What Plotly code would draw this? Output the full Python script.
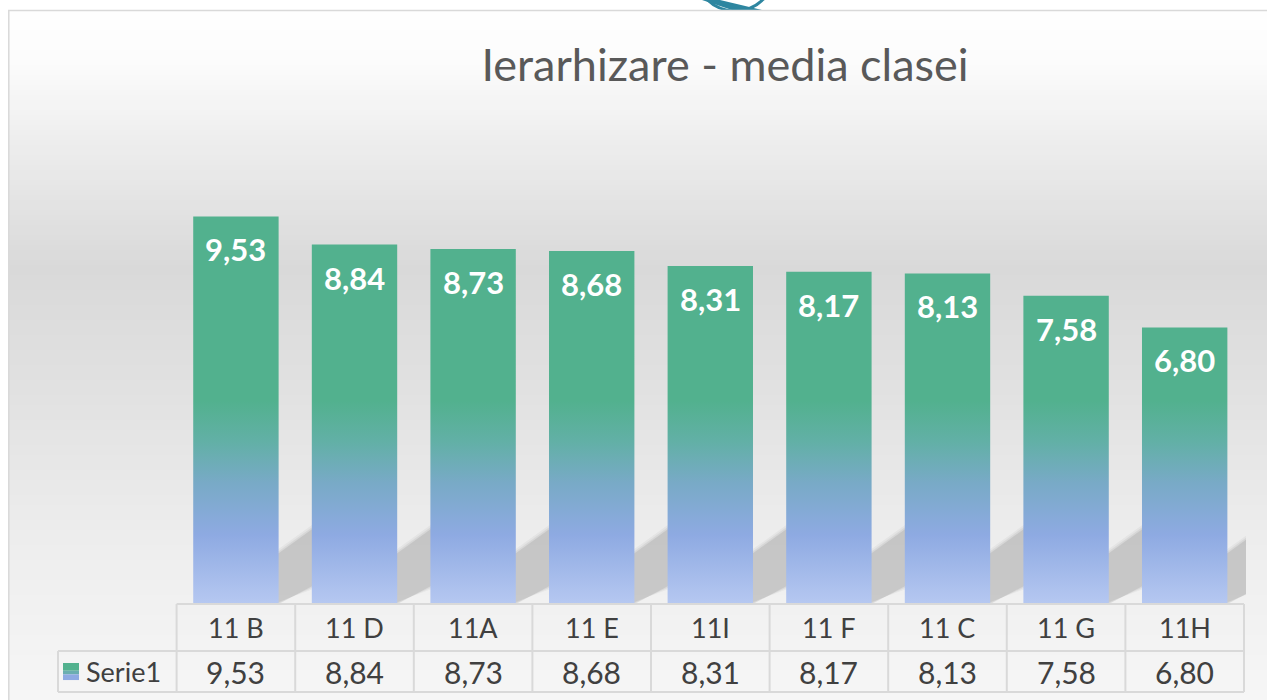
"""Bar chart with an Excel-style data table underneath: Ierarhizare - media clasei."""

import plotly.graph_objects as go

categories = ["11 B", "11 D", "11A", "11 E", "11I", "11 F", "11 C", "11 G", "11H"]
medii = [9.53, 8.84, 8.73, 8.68, 8.31, 8.17, 8.13, 7.58, 6.80]
serie_name = "Serie1"
chart_title = "Ierarhizare - media clasei"

W, H = 1267, 700
ML, MR, MT, MB = 56, 21, 116, 6
PLOT_W = W - ML - MR
PLOT_H = H - MT - MB
X_RANGE = [-1.517, 8.517]
Y_RANGE = [-2.213, 12]
BAR_W = 0.72
HEAD_ROW = -1.156      # line between header row and values row
TABLE_BOTTOM = -2.164  # bottom line of the data table

FONT = "Lato"
TEXT_GRAY = "#404040"
GRID = "#d9d9d9"
BAR_SCALE = [
    [0.0, "#b6c8f1"],
    [0.17, "#8eaae2"],
    [0.30, "#78aac6"],
    [0.40, "#62b0a6"],
    [0.50, "#52b18e"],
    [1.0, "#52b18e"],
]
# background gradient stops: (pixel y, grey level)
BG_STOPS = [(0, 255), (60, 252), (150, 236), (267, 217), (400, 226), (550, 238), (700, 246)]


def fmt(v):
    return f"{v:.2f}".replace(".", ",")


def px_x(px):
    return (px - ML) / PLOT_W


def px_y(py):
    return (H - MB - py) / PLOT_H


def bg_level(py):
    for (y0, g0), (y1, g1) in zip(BG_STOPS, BG_STOPS[1:]):
        if y0 <= py <= y1:
            return g0 + (g1 - g0) * (py - y0) / (y1 - y0)
    return BG_STOPS[-1][1]


fig = go.Figure()

# soft diagonal shadows to the right of each bar (layers for a blurred edge)
for grow, alpha in [(0.10, 0.07), (0.05, 0.10), (0.0, 0.17)]:
    sx, sy = [], []
    for i, v in enumerate(medii):
        r = i + BAR_W / 2
        sx += [i, r - grow / 2, r + 0.32, r + 0.32, r, i, i, None]
        sy += [0, 0, 0.5 - grow, 1.92 + grow, 1.25 + grow, 1.25 + grow, 0, None]
    fig.add_trace(go.Scatter(
        x=sx, y=sy, mode="lines", fill="toself", line=dict(width=0),
        fillcolor=f"rgba(110,110,110,{alpha})", hoverinfo="skip", showlegend=False,
    ))

# the bars, one closed polygon per class, filled with a vertical gradient
bx, by = [], []
for i, v in enumerate(medii):
    x0, x1 = i - BAR_W / 2, i + BAR_W / 2
    bx += [x0, x1, x1, x0, x0, None]
    by += [0, 0, v, v, 0, None]
fig.add_trace(go.Scatter(
    x=bx, y=by, mode="lines", fill="toself", line=dict(width=0),
    fillgradient=dict(type="vertical", start=0, stop=10, colorscale=BAR_SCALE),
    name=serie_name, hoverinfo="skip", showlegend=False,
))
fig.add_trace(go.Scatter(
    x=list(range(len(categories))), y=medii, mode="markers",
    marker=dict(opacity=0, size=30), name=serie_name,
    customdata=categories, hovertemplate="%{customdata}: %{y:.2f}<extra></extra>",
    showlegend=False,
))

annotations = []
# value labels inside the bars
for i, v in enumerate(medii):
    annotations.append(dict(
        x=i, y=v, text=fmt(v), showarrow=False, yanchor="top", yshift=-12,
        font=dict(family=FONT, size=31, color="white", weight="bold"),
    ))
# data table text
for i, (c, v) in enumerate(zip(categories, medii)):
    annotations.append(dict(
        x=i, y=HEAD_ROW / 2, text=c, showarrow=False,
        font=dict(family=FONT, size=27, color=TEXT_GRAY),
    ))
    annotations.append(dict(
        x=i, y=(HEAD_ROW + TABLE_BOTTOM) / 2, text=fmt(v), showarrow=False,
        font=dict(family=FONT, size=30, color=TEXT_GRAY),
    ))
annotations.append(dict(
    xref="paper", x=px_x(84), xanchor="left", y=(HEAD_ROW + TABLE_BOTTOM) / 2,
    text=serie_name, showarrow=False, font=dict(family=FONT, size=27, color=TEXT_GRAY),
))

shapes = []
# piece of a logo peeking out above the chart area
teal = "#2e86a0"
shapes.append(dict(
    type="circle", xref="paper", yref="paper", layer="below",
    x0=px_x(695), x1=px_x(775), y0=px_y(11), y1=px_y(-69),
    line=dict(color=teal, width=3),
))
shapes.append(dict(
    type="path", xref="paper", yref="paper", layer="below",
    path=(f"M{px_x(702)},{px_y(0)} L{px_x(720)},{px_y(0)} "
          f"L{px_x(762)},{px_y(10)} L{px_x(732)},{px_y(10)} Z"),
    fillcolor=teal, line=dict(width=0),
))
# background: chart-area grey gradient, drawn as thin stripes
step = 5
for py in range(10, H, step):
    g = round(bg_level(py + step / 2))
    shapes.append(dict(
        type="rect", xref="paper", yref="paper", layer="below",
        x0=px_x(8), x1=px_x(W + 5), y0=px_y(py + step), y1=px_y(py),
        fillcolor=f"rgb({g},{g},{g})", line=dict(width=0),
    ))
# chart-area border
shapes.append(dict(
    type="rect", xref="paper", yref="paper", layer="above",
    x0=px_x(8.8), x1=px_x(W + 12), y0=px_y(H + 10), y1=px_y(10.5),
    line=dict(color=GRID, width=1.5),
))

# table grid
line = dict(color=GRID, width=2)
n = len(categories)
shapes.append(dict(type="line", x0=-0.5, x1=n - 0.5, y0=0, y1=0, line=line))
shapes.append(dict(type="line", x0=-1.5, x1=n - 0.5, y0=HEAD_ROW, y1=HEAD_ROW, line=line))
shapes.append(dict(type="line", x0=-1.5, x1=n - 0.5, y0=TABLE_BOTTOM, y1=TABLE_BOTTOM, line=line))
shapes.append(dict(type="line", x0=-1.5, x1=-1.5, y0=TABLE_BOTTOM, y1=HEAD_ROW, line=line))
for k in range(n + 1):
    shapes.append(dict(type="line", x0=k - 0.5, x1=k - 0.5, y0=TABLE_BOTTOM, y1=0, line=line))

# legend key in the table (small gradient square)
key_y = (HEAD_ROW + TABLE_BOTTOM) / 2
for (t, b, col) in [(0.21, 0.02, "#52b18e"), (0.02, -0.07, "#6aaeb0"), (-0.07, -0.21, "#8eaae2")]:
    shapes.append(dict(
        type="rect", xref="paper", yref="y", layer="above",
        x0=px_x(63), x1=px_x(79), y0=key_y + b, y1=key_y + t,
        fillcolor=col, line=dict(width=0),
    ))

fig.update_layout(
    width=W,
    height=H,
    margin=dict(l=ML, r=MR, t=MT, b=MB),
    paper_bgcolor="white",
    plot_bgcolor="rgba(0,0,0,0)",
    title=dict(
        text=chart_title, x=725 / W, xanchor="center", y=1 - 65 / H, yanchor="middle",
        font=dict(family=FONT, size=45, color="#595959"),
    ),
    xaxis=dict(range=X_RANGE, visible=False, fixedrange=True),
    yaxis=dict(range=Y_RANGE, visible=False, fixedrange=True),
    showlegend=False,
    annotations=annotations,
    shapes=shapes,
)

# drop the default 8px page margin so the figure fills the window exactly
fig.write_html(
    "out.html",
    config={"displayModeBar": False},
    post_script="document.body.style.margin='0';document.body.style.overflow='hidden';",
)
